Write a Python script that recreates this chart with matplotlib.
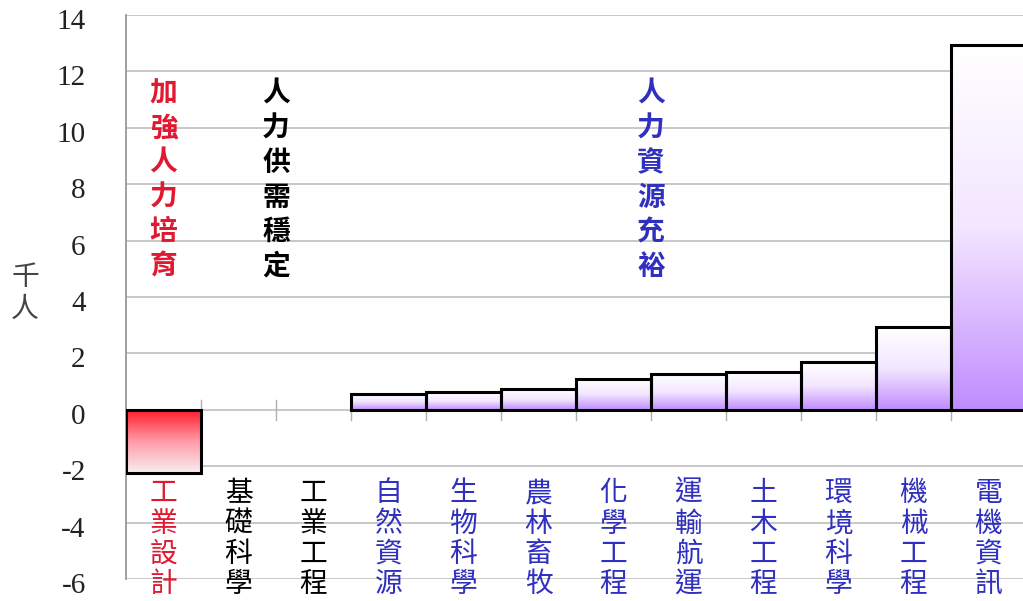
import numpy as np
import matplotlib.pyplot as plt
from matplotlib.colors import LinearSegmentedColormap
from matplotlib.transforms import ScaledTranslation

# 資料
categories = ['工業設計', '基礎科學', '工業工程', '自然資源', '生物科學', '農林畜牧',
              '化學工程', '運輸航運', '土木工程', '環境科學', '機械工程', '電機資訊']
values = [-2.25, 0.0, 0.0, 0.57, 0.63, 0.73, 1.1, 1.27, 1.33, 1.68, 2.93, 12.93]
label_colors = ['#e01830', 'black', 'black'] + ['#3030c0'] * 9
yticks = [-6, -4, -2, 0, 2, 4, 6, 8, 10, 12, 14]

groups = ['加強人力培育', '人力供需穩定', '人力資源充裕']
group_x = [0, 1.5, 6.5]
group_colors = ['#e01830', 'black', '#3030c0']

cjk = ['Noto Sans CJK TC', 'DejaVu Sans']

fig = plt.figure(figsize=(10.23, 6.01), dpi=100)
W, H = 1023, 601
ax = fig.add_axes([126 / W, 22 / H, 900 / W, 564 / H])

ax.set_xlim(-0.5, len(categories) - 0.5)
ax.set_ylim(-6, 14)

# 漸層色
purple = LinearSegmentedColormap.from_list('p', ['#ffffff', '#f3e6ff', '#c08cff'])
red = LinearSegmentedColormap.from_list('r', ['#ff1a2a', '#ff9aa5', '#f8eef2'])
grad = np.linspace(0, 1, 256).reshape(-1, 1)

bars = ax.bar(range(len(categories)), values, width=1.0, edgecolor='black',
              linewidth=2.2, facecolor='none', zorder=3)
for b, v in zip(bars, values):
    if v == 0:
        b.set_visible(False)
        continue
    x0 = b.get_x()
    x1 = x0 + b.get_width()
    cmap = purple if v > 0 else red
    ax.imshow(grad, extent=(x0, x1, min(0, v), max(0, v)), aspect='auto',
              cmap=cmap, origin='upper', zorder=2, interpolation='bilinear')

# 格線
for t in yticks:
    ax.axhline(t, color='#c4c4c4', lw=1.3, zorder=1)

# x 軸在 0 的刻度
for i in range(len(categories)):
    ax.plot([i + 0.5, i + 0.5], [-0.35, 0.35], color='#b0b0b0', lw=1, zorder=1)

for s in ['top', 'right', 'bottom']:
    ax.spines[s].set_visible(False)
ax.spines['left'].set_color('#999999')
ax.spines['left'].set_linewidth(1.3)
ax.set_xticks([])
ax.set_yticks(yticks)
ax.set_yticklabels([str(t) for t in yticks], fontfamily='Liberation Serif',
                   fontsize=21, color='#222222')
ax.tick_params(axis='y', length=0, pad=29)
shift = ScaledTranslation(0, -4 / 100, fig.dpi_scale_trans)
for lbl in ax.get_yticklabels():
    lbl.set_transform(lbl.get_transform() + shift)

# 類別標籤(直排)
for i, (c, col) in enumerate(zip(categories, label_colors)):
    ax.text(i, -2.42, '\n'.join(c), ha='center', va='top', fontsize=20,
            color=col, family=cjk, linespacing=1.02, zorder=4)

# 區塊說明
for g, gx, gc in zip(groups, group_x, group_colors):
    ax.text(gx, 11.7, '\n'.join(g), ha='center', va='top', fontsize=20,
            color=gc, family=cjk, linespacing=1.3, fontweight='bold', zorder=4)

fig.text(25 / W, 1 - 293 / H, '千\n人', ha='center', va='center', fontsize=20,
         color='#444444', family=cjk, linespacing=1.05)

fig.savefig('out.png', dpi=100)
